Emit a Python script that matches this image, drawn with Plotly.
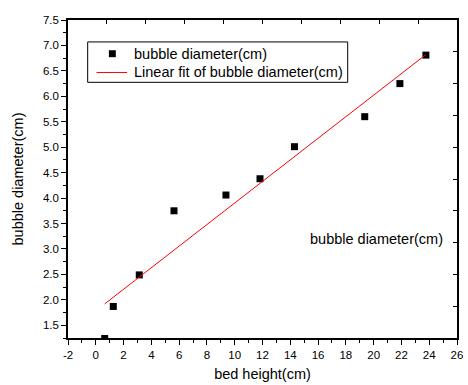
import plotly.graph_objects as go

# Data
bed_height = [0.64, 1.26, 3.13, 5.63, 9.37, 11.82, 14.3, 19.36, 21.89, 23.76]
bubble_diameter = [1.24, 1.87, 2.49, 3.75, 4.06, 4.38, 5.01, 5.6, 6.25, 6.81]
fit_x = [0.64, 23.76]
fit_y = [1.92, 6.82]
x_ticks = [-2, 0, 2, 4, 6, 8, 10, 12, 14, 16, 18, 20, 22, 24, 26]
x_tick_labels = [str(v) for v in x_ticks]  # plain hyphen minus like the reference
series_name = "bubble diameter(cm)"
fit_name = "Linear fit of bubble diameter(cm)"

FONT = "Liberation Sans, Arial, sans-serif"
TXT = 14.5
TICK = 11.5

fig = go.Figure()
fig.add_trace(go.Scatter(
    x=bed_height, y=bubble_diameter, mode="markers",
    name=series_name,
    marker=dict(symbol="square", size=7, color="black"),
    showlegend=False,
))
fig.add_trace(go.Scatter(
    x=fit_x, y=fit_y, mode="lines",
    name=fit_name,
    line=dict(color="red", width=1),
    showlegend=False,
))
# invisible trace to activate secondary axes (top/right inward ticks)
fig.add_trace(go.Scatter(x=[0, 10], y=[0, 10], xaxis="x2", yaxis="y2",
                         mode="markers", marker=dict(opacity=0),
                         showlegend=False, hoverinfo="skip"))

# Legend box (drawn in paper coords, like the Origin legend)
lx0, lx1, ly0, ly1 = 0.0506, 0.719, 0.804, 0.931
shapes = [
    dict(type="rect", xref="paper", yref="paper", x0=lx0, x1=lx1, y0=ly0, y1=ly1,
         line=dict(color="black", width=1), fillcolor="white", layer="below"),
    dict(type="rect", xref="paper", yref="paper", x0=0.114 - 0.0089, x1=0.114 + 0.0089,
         y0=0.894 - 0.0109, y1=0.894 + 0.0109, line=dict(width=0), fillcolor="black"),
    dict(type="line", xref="paper", yref="paper", x0=0.0734, x1=0.152, y0=0.835, y1=0.835,
         line=dict(color="red", width=1)),
]
annotations = [
    dict(x=0.164, y=0.894, xref="paper", yref="paper", text=series_name,
         showarrow=False, xanchor="left", yanchor="middle",
         font=dict(family=FONT, size=TXT, color="black")),
    dict(x=0.164, y=0.835, xref="paper", yref="paper", text=fit_name,
         showarrow=False, xanchor="left", yanchor="middle",
         font=dict(family=FONT, size=TXT, color="black")),
    dict(x=0.792, y=0.31, xref="paper", yref="paper", text=series_name,
         showarrow=False, xanchor="center", yanchor="middle",
         font=dict(family=FONT, size=TXT, color="black")),
]

fig.update_layout(
    width=468, height=385,
    margin=dict(l=68, r=5, t=20, b=44),
    paper_bgcolor="white", plot_bgcolor="white",
    font=dict(family=FONT, size=TICK, color="black"),
    showlegend=False,
    shapes=shapes,
    annotations=annotations,
    xaxis=dict(
        range=[-2, 26], tickvals=x_ticks, ticktext=x_tick_labels,
        showgrid=False, zeroline=False,
        showline=True, linecolor="black", linewidth=1.5, mirror=True,
        ticks="outside", ticklen=5, tickwidth=1, tickcolor="black",
        minor=dict(dtick=1, tick0=-2, ticks="outside", ticklen=3, tickcolor="black"),
        title=dict(text="bed height(cm)", font=dict(family=FONT, size=TXT), standoff=9),
        tickfont=dict(family=FONT, size=TICK),
    ),
    yaxis=dict(
        range=[1.25, 7.5], tick0=1.5, dtick=0.5, tickformat=".1f",
        showgrid=False, zeroline=False,
        showline=True, linecolor="black", linewidth=1.5, mirror=True,
        ticks="outside", ticklen=5, tickwidth=1, tickcolor="black",
        minor=dict(dtick=0.25, ticks="outside", ticklen=3, tickcolor="black"),
        title=dict(text="bubble diameter(cm)", font=dict(family=FONT, size=TXT), standoff=16),
        tickfont=dict(family=FONT, size=TICK),
    ),
    xaxis2=dict(
        overlaying="x", side="top", range=[0, 10], dtick=1,
        showgrid=False, zeroline=False, showline=False,
        ticks="inside", ticklen=4, tickcolor="black", showticklabels=False,
    ),
    yaxis2=dict(
        overlaying="y", side="right", range=[0, 10], dtick=1,
        showgrid=False, zeroline=False, showline=False,
        ticks="inside", ticklen=4, tickcolor="black", showticklabels=False,
    ),
)

fig.write_html("out.html")
